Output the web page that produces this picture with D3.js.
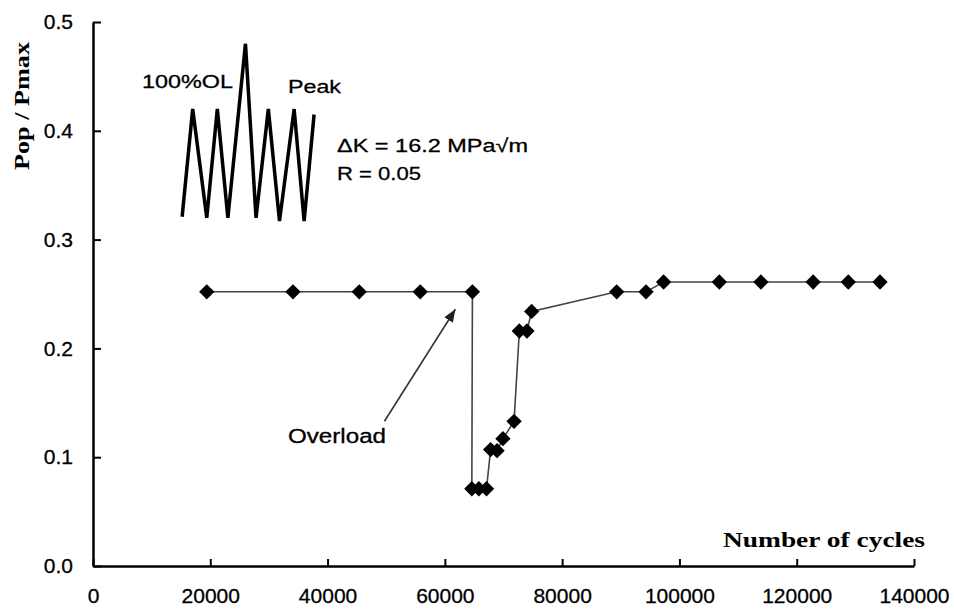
<!DOCTYPE html>
<html>
<head>
<meta charset="utf-8">
<script src="https://cdn.jsdelivr.net/npm/d3@7"></script>
<style>
body { margin: 0; background: #fff; }
</style>
</head>
<body>
<script>
// data
var cycles = [19400, 34100, 45400, 55800, 64700, 64600, 65800, 67100, 67800, 68900, 69900,
              71800, 72700, 74000, 74800, 89300, 94300, 97300, 106800, 113900, 122800, 128800, 134200];
var ratio  = [0.252, 0.252, 0.252, 0.252, 0.252, 0.071, 0.071, 0.071, 0.107, 0.106, 0.117,
              0.133, 0.216, 0.216, 0.234, 0.252, 0.252, 0.261, 0.261, 0.261, 0.261, 0.261, 0.261];

// schematic load waveform of the inset (in chart units)
var waveX = [15200, 17000, 19400, 21200, 23000, 26000, 27800, 29900, 31800, 34300, 36000, 37700];
var waveY = [0.321, 0.420, 0.320, 0.420, 0.320, 0.480, 0.320, 0.420, 0.317, 0.420, 0.317, 0.415];

var xTicks = [0, 20000, 40000, 60000, 80000, 100000, 120000, 140000];
var yTicks = [0, 0.1, 0.2, 0.3, 0.4, 0.5];

var W = 954, H = 614;
var margin = {top: 22, right: 40, bottom: 48, left: 93};
var width = W - margin.left - margin.right;
var height = H - margin.top - margin.bottom;

var sans = "'Liberation Sans', Arial, sans-serif";
var serif = "'Liberation Serif', 'Times New Roman', serif";

var svg = d3.select("body").append("svg")
    .attr("width", W)
    .attr("height", H);

var defs = svg.append("defs");
defs.append("marker")
    .attr("id", "arrow")
    .attr("viewBox", "0 0 10 10")
    .attr("refX", 10).attr("refY", 5)
    .attr("markerWidth", 8).attr("markerHeight", 8)
    .attr("markerUnits", "strokeWidth")
    .attr("orient", "auto")
  .append("path")
    .attr("d", "M0,1 L10,5 L0,9 Z")
    .attr("fill", "#222");

var g = svg.append("g")
    .attr("transform", "translate(" + margin.left + "," + margin.top + ")");

var x = d3.scaleLinear().domain([0, 140000]).range([0, width]);
var y = d3.scaleLinear().domain([0, 0.5]).range([height, 0]);

// axes, ticks pointing inward
var xAxis = d3.axisBottom(x).tickValues(xTicks).tickFormat(d3.format("d"))
    .tickSizeInner(-7).tickSizeOuter(0).tickPadding(22);
var yAxis = d3.axisLeft(y).tickValues(yTicks).tickFormat(d3.format(".1f"))
    .tickSizeInner(-8).tickSizeOuter(0).tickPadding(20);

var gx = g.append("g")
    .attr("transform", "translate(0," + height + ")")
    .call(xAxis);
var gy = g.append("g").call(yAxis);

[gx, gy].forEach(function(a) {
    a.select(".domain").attr("stroke", "#000").attr("stroke-width", 2.5);
    a.selectAll(".tick line").attr("stroke", "#000").attr("stroke-width", 2);
    a.selectAll(".tick text")
        .attr("fill", "#000")
        .attr("stroke", "#000")
        .attr("stroke-width", 0.3)
        .style("font-family", sans)
        .style("font-size", "21px");
});

// data line and markers
var pts = cycles.map(function(c, i) { return [c, ratio[i]]; });
var line = d3.line()
    .x(function(d) { return x(d[0]); })
    .y(function(d) { return y(d[1]); });

g.append("path")
    .datum(pts)
    .attr("fill", "none")
    .attr("stroke", "#444")
    .attr("stroke-width", 1.6)
    .attr("d", line);

var diamond = d3.symbol().type(d3.symbolDiamond2).size(150);
g.selectAll(".pt")
    .data(pts)
    .enter().append("path")
    .attr("class", "pt")
    .attr("transform", function(d) { return "translate(" + x(d[0]) + "," + y(d[1]) + ")"; })
    .attr("d", diamond)
    .attr("fill", "#000");

// inset waveform
var wave = waveX.map(function(c, i) { return [c, waveY[i]]; });
g.append("path")
    .datum(wave)
    .attr("fill", "none")
    .attr("stroke", "#000")
    .attr("stroke-width", 3.5)
    .attr("stroke-linejoin", "miter")
    .attr("d", line);

// overload arrow
g.append("line")
    .attr("x1", x(49700)).attr("y1", y(0.133))
    .attr("x2", x(61800)).attr("y2", y(0.236))
    .attr("stroke", "#333")
    .attr("stroke-width", 1.6)
    .attr("marker-end", "url(#arrow)");

// annotation texts (the original lettering is a bit wider than the fonts here)
function label(txt, px, py, len, size, family, bold) {
    return svg.append("text")
        .attr("x", px).attr("y", py)
        .attr("textLength", len)
        .attr("lengthAdjust", "spacingAndGlyphs")
        .style("font-family", family)
        .style("font-size", size + "px")
        .style("font-weight", bold ? "bold" : "normal")
        .attr("fill", "#000")
        .attr("stroke", bold ? "none" : "#000")
        .attr("stroke-width", 0.3)
        .text(txt);
}

label("100%OL", 142, 88, 91, 19, sans);
label("Peak", 288, 93, 53, 19, sans);
label("\u0394K = 16.2 MPa\u221Am", 337, 152, 191, 19, sans);
label("R = 0.05", 337, 180, 84, 19, sans);
label("Overload", 288, 443, 98, 20, sans);
label("Number of cycles", 723, 547, 202, 20, serif, true);

svg.append("text")
    .attr("transform", "translate(29,106) rotate(-90)")
    .attr("text-anchor", "middle")
    .attr("textLength", 128)
    .attr("lengthAdjust", "spacingAndGlyphs")
    .style("font-family", serif)
    .style("font-size", "20px")
    .style("font-weight", "bold")
    .attr("fill", "#000")
    .text("Pop / Pmax");
</script>
</body>
</html>
